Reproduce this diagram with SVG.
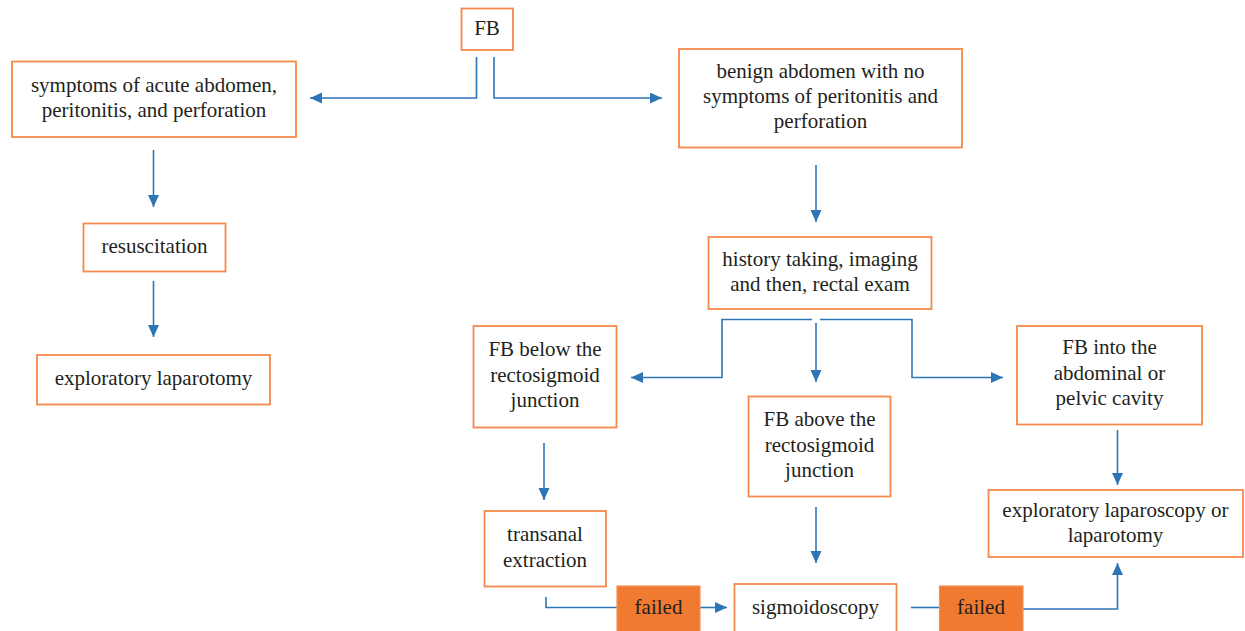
<svg xmlns="http://www.w3.org/2000/svg" width="1245" height="631" viewBox="0 0 1245 631">
<style>
.box{fill:#ffffff;stroke:#f4894a;stroke-width:1.8}
.fail{fill:#f07a30;stroke:#f2915a;stroke-width:1.2}
.t{font-family:'Liberation Serif',Tinos,'Times New Roman',Times,serif;font-size:21px;fill:#231f20;text-anchor:middle}
.c{fill:none;stroke:#2e75b6;stroke-width:1.6}
</style>
<defs>
<marker id="ah" markerUnits="userSpaceOnUse" markerWidth="14" markerHeight="12" refX="12" refY="5.5" orient="auto">
<path d="M0,0 L12,5.5 L0,11 Z" fill="#2e75b6"/>
</marker>
</defs>
<rect width="1245" height="631" fill="#ffffff"/>
<g id="connectors">
<path class="c" d="M476.5,57 V98 H310" marker-end="url(#ah)"/>
<path class="c" d="M494,57 V98 H662" marker-end="url(#ah)"/>
<path class="c" d="M153.5,150 V207" marker-end="url(#ah)"/>
<path class="c" d="M153.5,281 V337" marker-end="url(#ah)"/>
<path class="c" d="M816,165 V222" marker-end="url(#ah)"/>
<path class="c" d="M812,319.5 H722 V377.5 H631" marker-end="url(#ah)"/>
<path class="c" d="M820,319.5 H912 V377.5 H1003" marker-end="url(#ah)"/>
<path class="c" d="M816,323 V382" marker-end="url(#ah)"/>
<path class="c" d="M544,443 V500" marker-end="url(#ah)"/>
<path class="c" d="M816,507 V563" marker-end="url(#ah)"/>
<path class="c" d="M1117.5,430 V485" marker-end="url(#ah)"/>
<path class="c" d="M546,597 V607.5 H617"/>
<path class="c" d="M700,607.5 H727" marker-end="url(#ah)"/>
<path class="c" d="M911,607.5 H939"/>
<path class="c" d="M1023,609 H1117.5 V563" marker-end="url(#ah)"/>
</g>
<g id="n-fb"><rect class="box" x="461.5" y="8.5" width="51.5" height="41.5"/><text class="t" x="487" y="35">FB</text></g>
<g id="n-acute"><rect class="box" x="12" y="61.5" width="284" height="75.5"/><text class="t" x="154" y="92">symptoms of acute abdomen,</text><text class="t" x="154" y="117">peritonitis, and perforation</text></g>
<g id="n-resus"><rect class="box" x="83.5" y="223.5" width="142" height="48"/><text class="t" x="154.5" y="253">resuscitation</text></g>
<g id="n-explap"><rect class="box" x="37" y="355" width="233" height="49.5"/><text class="t" x="153.5" y="385">exploratory laparotomy</text></g>
<g id="n-benign"><rect class="box" x="679" y="49" width="283" height="98.5"/><text class="t" x="820.5" y="78">benign abdomen with no</text><text class="t" x="820.5" y="103">symptoms of peritonitis and</text><text class="t" x="820.5" y="128">perforation</text></g>
<g id="n-history"><rect class="box" x="708.5" y="237" width="223" height="72"/><text class="t" x="820" y="266">history taking, imaging</text><text class="t" x="820" y="291">and then, rectal exam</text></g>
<g id="n-below"><rect class="box" x="473.5" y="326" width="143" height="101.5"/><text class="t" x="545" y="356">FB below the</text><text class="t" x="545" y="381.5">rectosigmoid</text><text class="t" x="545" y="407">junction</text></g>
<g id="n-above"><rect class="box" x="748.5" y="396.5" width="142" height="100"/><text class="t" x="819.5" y="426">FB above the</text><text class="t" x="819.5" y="451.5">rectosigmoid</text><text class="t" x="819.5" y="476.5">junction</text></g>
<g id="n-into"><rect class="box" x="1017" y="326" width="185" height="98.5"/><text class="t" x="1109.5" y="354">FB into the</text><text class="t" x="1109.5" y="380">abdominal or</text><text class="t" x="1109.5" y="405">pelvic cavity</text></g>
<g id="n-explsc"><rect class="box" x="988.5" y="490" width="254.5" height="67"/><text class="t" x="1115.5" y="517">exploratory laparoscopy or</text><text class="t" x="1115.5" y="542">laparotomy</text></g>
<g id="n-transanal"><rect class="box" x="484.5" y="511" width="121.5" height="75.5"/><text class="t" x="545" y="541">transanal</text><text class="t" x="545" y="566.5">extraction</text></g>
<g id="n-failed1"><rect class="fail" x="617" y="586" width="83" height="60"/><text class="t" x="658.5" y="614">failed</text></g>
<g id="n-sigmoid"><rect class="box" x="734.5" y="584" width="162" height="60"/><text class="t" x="815.5" y="614">sigmoidoscopy</text></g>
<g id="n-failed2"><rect class="fail" x="939.5" y="586" width="83.5" height="60"/><text class="t" x="981" y="614">failed</text></g>
</svg>
